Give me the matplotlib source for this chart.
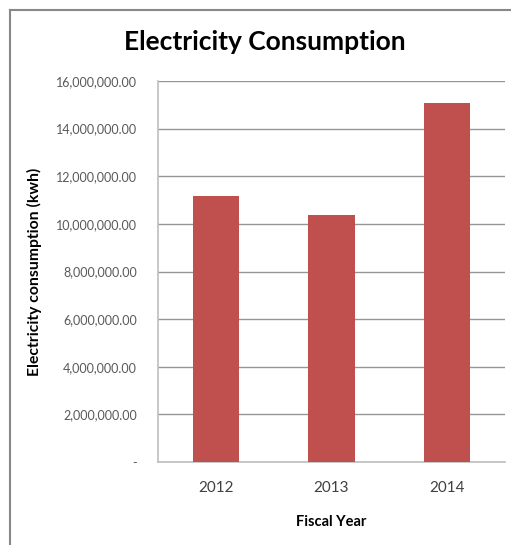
import matplotlib.pyplot as plt
from matplotlib.ticker import FuncFormatter
from matplotlib.lines import Line2D

years = ['2012', '2013', '2014']
consumption = [11150000, 10370000, 15060000]
y_ticks = [0, 2e6, 4e6, 6e6, 8e6, 10e6, 12e6, 14e6, 16e6]

plt.rcParams['font.family'] = ['Lato', 'DejaVu Sans']

fig = plt.figure(figsize=(5.11, 5.45), dpi=100)
ax = fig.add_axes([158/511, 1 - 462/545, (505 - 158)/511, (462 - 81)/545])

x = range(len(years))
ax.bar(x, consumption, width=0.4, color='#c0504d', zorder=3)
ax.set_xlim(-0.5, 2.5)
ax.set_ylim(0, 16e6)
ax.set_yticks(y_ticks)
ax.set_xticks(list(x))
ax.set_xticklabels(years)

def fmt(v, pos):
    if v == 0:
        return '-'
    return f'{v:,.2f}'
ax.yaxis.set_major_formatter(FuncFormatter(fmt))

ax.grid(axis='y', color='#969696', linewidth=1, zorder=0)
for s in ['top', 'right']:
    ax.spines[s].set_visible(False)
for s in ['left', 'bottom']:
    ax.spines[s].set_color('#bfbfbf')
    ax.spines[s].set_linewidth(1.2)
ax.tick_params(axis='y', length=0, pad=15, labelsize=9, labelcolor='#595959')
ax.tick_params(axis='x', length=0, pad=14, labelsize=11, labelcolor='#404040')

ax.set_ylabel('Electricity consumption (kwh)', fontsize=11.3, fontweight='bold')
ax.yaxis.set_label_coords((42 - 158) / 347, 0.5)
ax.set_xlabel('Fiscal Year', fontsize=10.5, fontweight='bold', labelpad=14)
fig.text(265/511, 1 - 42/545, 'Electricity Consumption', fontsize=19, fontweight='bold',
         ha='center', va='center')

# chart frame (left and top edges visible)
fig.add_artist(Line2D([10/511, 10/511], [0, 1 - 10/545], color='#888888', linewidth=1.5))
fig.add_artist(Line2D([10/511, 1], [1 - 10/545, 1 - 10/545], color='#888888', linewidth=1.5))

fig.savefig('out.png', dpi=100)
